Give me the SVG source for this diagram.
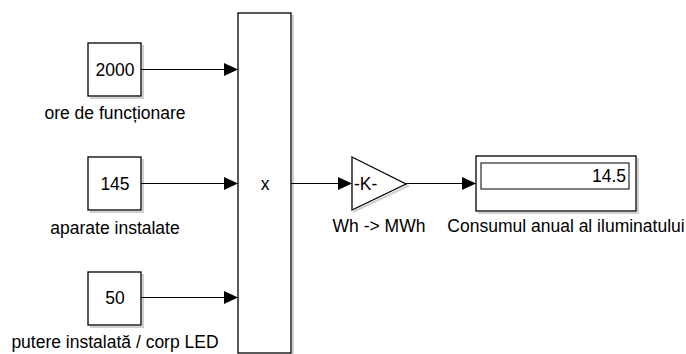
<svg xmlns="http://www.w3.org/2000/svg" width="686" height="354" viewBox="0 0 686 354">
<defs>
<style>
.blk{fill:#fff;stroke:#000;stroke-width:1.3}
.sh{fill:none;stroke:#d0d0d0;stroke-width:2}
.ln{fill:none;stroke:#000;stroke-width:1}
.t{font-family:"Liberation Sans",Arial,sans-serif;font-size:17.5px;fill:#000}
.c{text-anchor:middle}
</style>
<marker id="ah" viewBox="0 0 14 13" refX="14" refY="6.5" markerWidth="14" markerHeight="13" markerUnits="userSpaceOnUse" orient="auto">
<path d="M0,0 L14,6.5 L0,13 Z" fill="#000"/>
</marker>
</defs>
<rect width="686" height="354" fill="#fff"/>
<g id="c2000">
<path class="sh" d="M143,45 V98 H90"/>
<rect class="blk" x="88" y="43" width="53" height="53"/>
<text class="t c" x="115" y="76">2000</text>
<text class="t c" x="115" y="119">ore de funcționare</text>
</g>
<g id="c145">
<path class="sh" d="M143,159 V212 H90"/>
<rect class="blk" x="88" y="157" width="53" height="53"/>
<text class="t c" x="115" y="190">145</text>
<text class="t c" x="115" y="234">aparate instalate</text>
</g>
<g id="c50">
<path class="sh" d="M143,274 V327 H90"/>
<rect class="blk" x="88" y="272" width="53" height="53"/>
<text class="t c" x="115" y="304">50</text>
<text class="t c" x="115" y="348">putere instalată / corp LED</text>
</g>
<g id="product">
<path class="sh" d="M293,15 V356 H240"/>
<rect class="blk" x="238" y="13" width="53" height="340"/>
<text class="t c" x="265" y="190">x</text>
</g>
<g id="gain">
<path d="M353,159 L408,186 L353,212" fill="none" stroke="#d0d0d0" stroke-width="2"/>
<path class="blk" d="M352,157 L406,184 L352,210 Z"/>
<text class="t" x="354" y="190">-K-</text>
<text class="t c" x="379" y="232">Wh -&gt; MWh</text>
</g>
<g id="display">
<path class="sh" d="M638,158 V213 H478"/>
<rect class="blk" x="476" y="156" width="160" height="55"/>
<rect x="481" y="163" width="148" height="26" fill="#fff" stroke="#000" stroke-width="1"/>
<text class="t" x="626" y="182" text-anchor="end">14.5</text>
<text class="t c" x="566" y="232">Consumul anual al iluminatului</text>
</g>
<g id="connectors">
<line class="ln" x1="141" y1="69.5" x2="238" y2="69.5" marker-end="url(#ah)"/>
<line class="ln" x1="141" y1="183.5" x2="238" y2="183.5" marker-end="url(#ah)"/>
<line class="ln" x1="141" y1="297.5" x2="238" y2="297.5" marker-end="url(#ah)"/>
<line class="ln" x1="291" y1="183.5" x2="352" y2="183.5" marker-end="url(#ah)"/>
<line class="ln" x1="406" y1="183.5" x2="476" y2="183.5" marker-end="url(#ah)"/>
</g>
</svg>
